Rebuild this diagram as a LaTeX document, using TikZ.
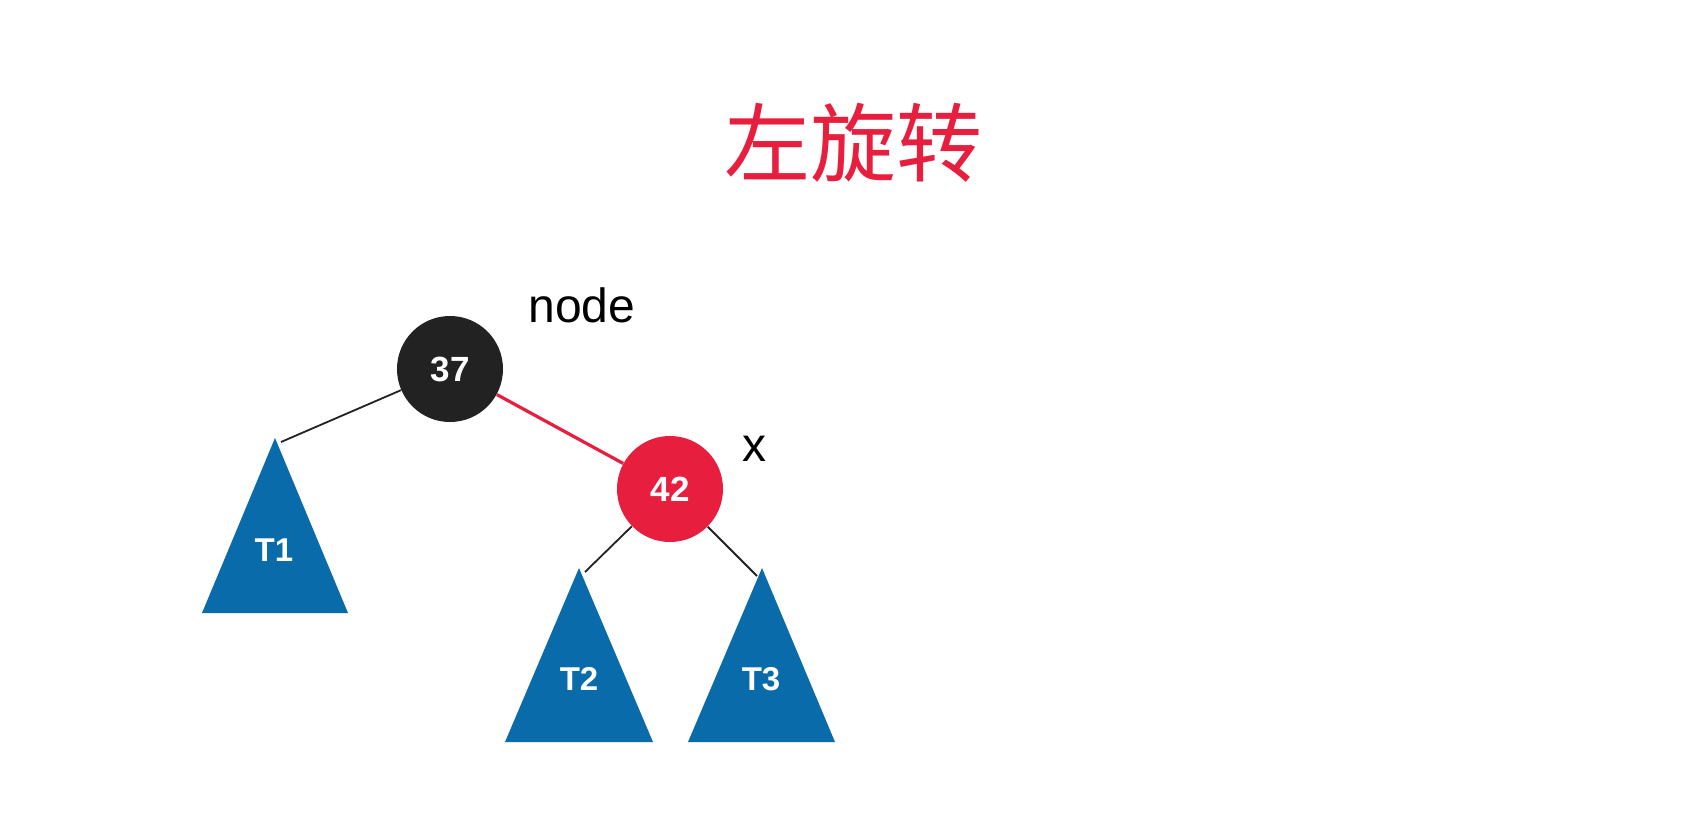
\documentclass[tikz,border=0pt]{standalone}
\usepackage{fontspec}
\setmainfont{Liberation Sans}
\newfontfamily\cjk{Noto Sans CJK SC}
\definecolor{rbred}{RGB}{232,30,62}
\definecolor{rbblue}{RGB}{10,107,170}
\definecolor{rbblack}{RGB}{34,34,34}
\newlength{\pxu}
\setlength{\pxu}{0.5pt}
\tikzset{
  rbnode/.style={circle, minimum size=106\pxu, inner sep=0pt, text=white, font=\fontsize{17.5}{20}\selectfont\bfseries},
  blacknode/.style={rbnode, fill=rbblack},
  rednode/.style={rbnode, fill=rbred},
  subtree/.style={fill=rbblue},
  treelabel/.style={text=white, font=\fontsize{16.5}{19}\selectfont\bfseries},
  tag/.style={font=\fontsize{24}{28}\selectfont},
  thinedge/.style={draw=rbblack, line width=0.9pt},
  redge/.style={draw=rbred, line width=1.6pt},
}
\begin{document}
\begin{tikzpicture}[x=0.5pt,y=-0.5pt]
\useasboundingbox[fill=white] (0,0) rectangle (1692,824);
% title
\node[text=rbred, font=\cjk\fontsize{43}{48}\selectfont] (title) at (853,143) {左旋转};
% subtrees
\coordinate (t1top) at (275,438);
\coordinate (t2top) at (579,568);
\coordinate (t3top) at (762,568);
\fill[subtree] (t1top) -- (348,613) -- (202,613) -- cycle;
\fill[subtree] (t2top) -- (653,742) -- (505,742) -- cycle;
\fill[subtree] (t3top) -- (835,742) -- (688,742) -- cycle;
\node[treelabel] (t1) at (274,550) {T1};
\node[treelabel] (t2) at (579,679) {T2};
\node[treelabel] (t3) at (761,679) {T3};
% nodes
\node[blacknode] (n37) at (450,369) {37};
\node[rednode] (n42) at (670,489) {42};
% edges
\draw[thinedge] (n37) -- ([xshift=3pt,yshift=-2pt]t1top);
\draw[thinedge] (n42) -- ([xshift=3pt,yshift=-2pt]t2top);
\draw[thinedge] (n42) -- ([xshift=-2.5pt,yshift=-4pt]t3top);
\draw[redge] (n37) -- (n42);
% labels
\node[tag, anchor=base] (lnode) at (582,322) {node};
\node[tag, anchor=base] (lx) at (754,461) {x};
\end{tikzpicture}
\end{document}
